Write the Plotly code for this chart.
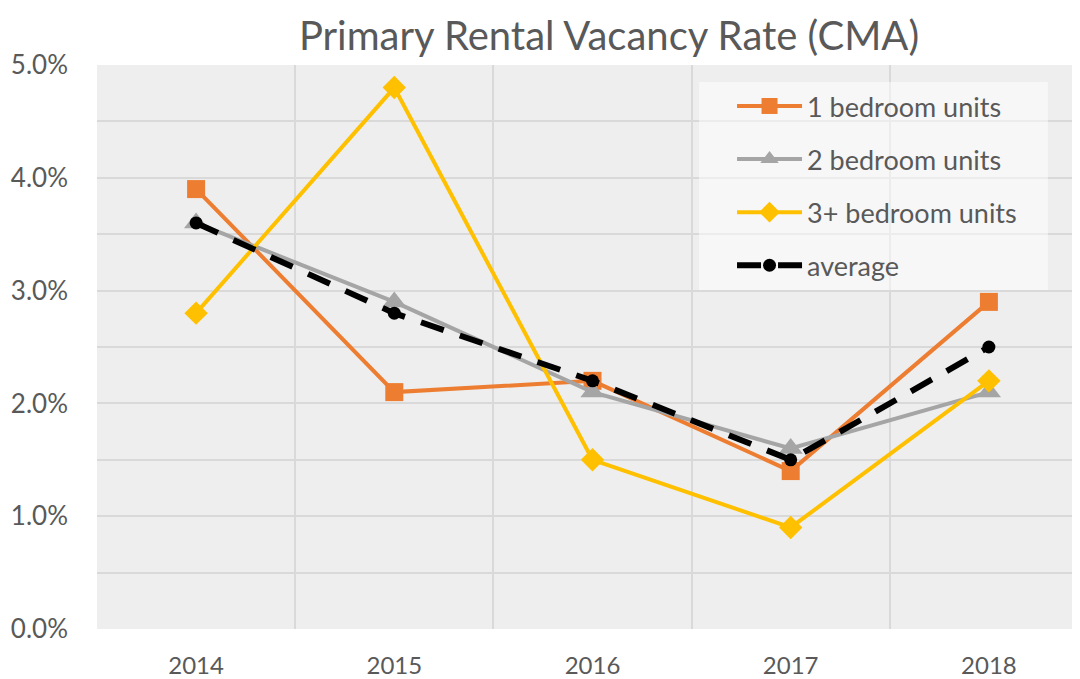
import plotly.graph_objects as go

years = ["2014", "2015", "2016", "2017", "2018"]
one_bed = [3.9, 2.1, 2.2, 1.4, 2.9]
two_bed = [3.6, 2.9, 2.1, 1.6, 2.1]
three_bed = [2.8, 4.8, 1.5, 0.9, 2.2]
average = [3.6, 2.8, 2.2, 1.5, 2.5]
y_ticks = [0, 1, 2, 3, 4, 5]
y_tick_labels = ["0.0%", "1.0%", "2.0%", "3.0%", "4.0%", "5.0%"]

xpos = list(range(len(years)))
FONT = "Lato, 'Open Sans', sans-serif"
TXT = "#595959"
GRID = "#D9D9D9"

fig = go.Figure()
series = [
    ("1 bedroom units", one_bed, "#ED7D31", "square", 18, "solid", 4),
    ("2 bedroom units", two_bed, "#A5A5A5", "triangle-up", 21, "solid", 4),
    ("3+ bedroom units", three_bed, "#FFC000", "diamond", 18, "solid", 4),
    ("average", average, "#000000", "circle", 13, "24px,17px", 6),
]
for i, (name, vals, col, sym, sz, dash, w) in enumerate(series):
    fig.add_trace(go.Scatter(
        x=xpos, y=vals, name=name, mode="lines+markers",
        line=dict(color=col, width=w, dash=dash),
        marker=dict(symbol=sym, size=sz, color=col),
        legendgroup=f"g{i}",
    ))

# invisible trace for the secondary x axis (vertical gridlines between categories)
fig.add_trace(go.Scatter(x=[-0.5, 4.5], y=[0, 0], xaxis="x2", mode="markers",
                         marker=dict(opacity=0), showlegend=False, hoverinfo="skip"))

fig.update_layout(
    width=1080, height=679,
    margin=dict(l=89, r=0, t=57, b=58, autoexpand=False),
    paper_bgcolor="white",
    plot_bgcolor="#EEEEEE",
    font=dict(family=FONT, color=TXT, size=25),
    title=dict(text="Primary Rental Vacancy Rate (CMA)", x=601 / 1080, xanchor="center",
               y=1 - 28 / 679, yanchor="middle", font=dict(size=40, color=TXT, family=FONT)),
    xaxis=dict(range=[-0.5, 4.5], tickvals=xpos, ticktext=years, showgrid=False,
               zeroline=False, showline=False, ticks="", tickfont=dict(size=24, color=TXT),
               ticklabelstandoff=20),
    xaxis2=dict(range=[-0.5, 4.5], overlaying="x", tickvals=[-0.5, 0.5, 1.5, 2.5, 3.5, 4.5],
                showgrid=True, gridcolor=GRID, gridwidth=2, showticklabels=False,
                zeroline=False, ticks=""),
    yaxis=dict(range=[0, 5], tickvals=y_ticks, ticktext=y_tick_labels, showgrid=True,
               gridcolor=GRID, gridwidth=2, zeroline=False, showline=False, ticks="",
               tickfont=dict(size=26, color=TXT), ticklabelstandoff=28,
               minor=dict(dtick=0.5, showgrid=True, gridcolor=GRID, gridwidth=2)),
    legend=dict(x=0.6408, y=0.970, xanchor="left", yanchor="top",
                bgcolor="rgba(0,0,0,0)", borderwidth=0,
                font=dict(size=27, color=TXT, family=FONT),
                tracegroupgap=15, itemwidth=65),
    shapes=[dict(type="rect", xref="paper", yref="paper",
                 x0=0.6075, x1=0.9596, y0=0.601, y1=0.9699,
                 fillcolor="rgba(255,255,255,0.5)", line=dict(width=0), layer="above")],
    showlegend=True,
)

fig.write_html("out.html")
